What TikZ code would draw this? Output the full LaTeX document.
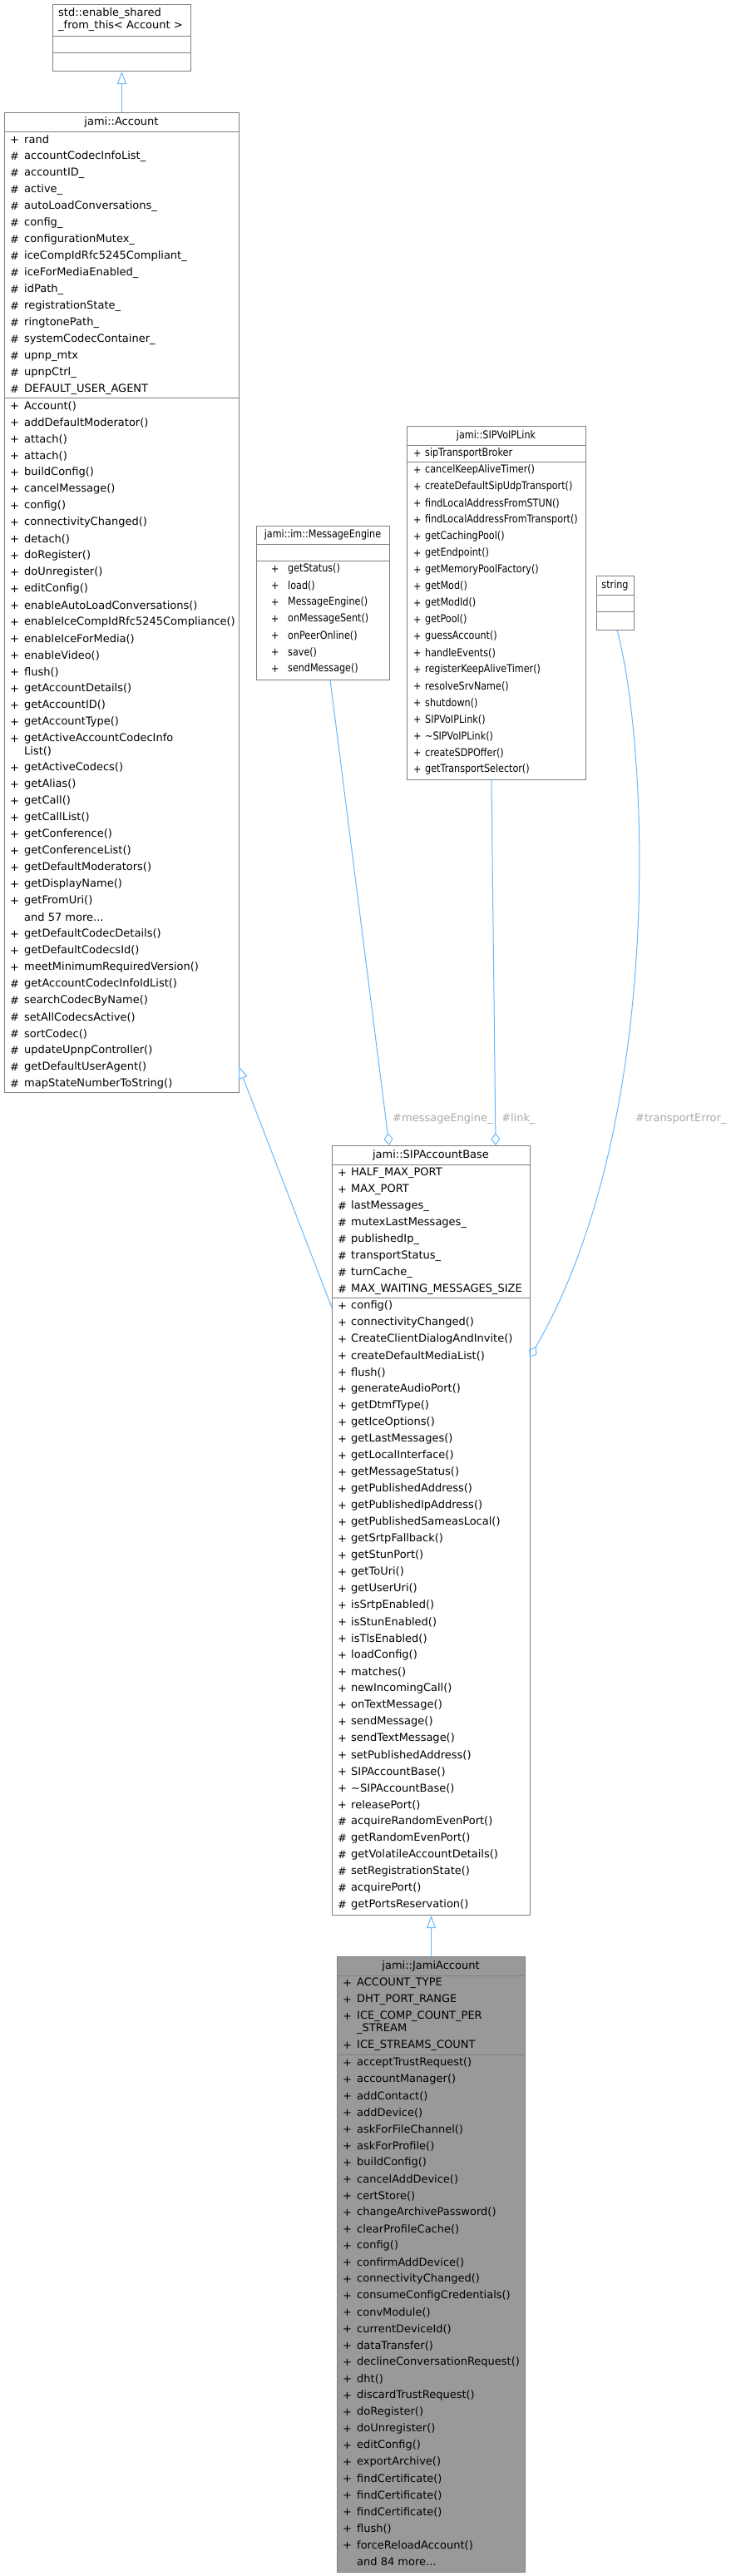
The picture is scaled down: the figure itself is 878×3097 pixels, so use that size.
\documentclass[tikz,border=0pt]{standalone}
\usepackage{fontspec}
\setmainfont{DejaVu Sans}
\newfontfamily\condfont{DejaVu Sans}[FakeStretch=0.86]
\usetikzlibrary{arrows.meta}
\definecolor{boxgray}{HTML}{7F7F7F}
\definecolor{edgeblue}{HTML}{63B8FF}
\definecolor{labelgray}{HTML}{A8A8A8}
\definecolor{jamifill}{HTML}{999999}

\newcommand\normfont{\fontsize{13}{15}\selectfont}
\newcommand\narrowfont{\condfont\fontsize{13}{15}\selectfont}
\newcommand\moredots{.{}.{}.}
% #1 prefix x, #2 name x, #3 first y, #4 font, #5 list of prefix/name
\newcommand\members[5]{%
  \foreach \p/\t [count=\i from 0] in {#5} {
    \node[member, font=#4] at (#1, {#3+20*\i}) {\p};
    \node[member, font=#4] at (#2, {#3+20*\i}) {\t};
  }}

\begin{document}
\begin{tikzpicture}[x=1pt, y=-1pt,
    classbox/.style={draw=boxgray, line width=1pt, anchor=north west, inner sep=0pt},
    sepline/.style={draw=boxgray, line width=1pt},
    member/.style={anchor=west, inner sep=0pt},
    title/.style={inner sep=0pt, font=\normfont},
    inherit/.style={draw=edgeblue, line width=1pt, -{Triangle[open, length=15pt, width=11pt]}},
    aggr/.style={draw=edgeblue, line width=1pt, {Diamond[open, length=15pt, width=11pt]}-},
    rolelabel/.style={anchor=west, inner sep=0pt, text=labelgray, font=\normfont}]

    \useasboundingbox (0,0) rectangle (878,3097);

    % std::enable_shared_from_this
    \node[classbox, minimum width=166pt, minimum height=80pt] (enable) at (63,5) {};
    \node[title, anchor=west] (enabletitle1) at (70,16) {std::enable\_shared};
    \node[title, anchor=west] (enabletitle2) at (70,31) {\_from\_this< Account >};
    \draw[sepline] (63,43) -- (229,43);
    \draw[sepline] (63,63) -- (229,63);

    % jami::Account
    \node[classbox, minimum width=282pt, minimum height=1178pt] (account) at (5,135) {};
    \node[title] (accounttitle) at (146,146.5) {jami::Account};
    \draw[sepline] (5,158) -- (287,158);
    \draw[sepline] (5,478) -- (287,478);
    \members{12}{29}{168}{\normfont}{+/rand, \#/accountCodecInfoList\_, \#/accountID\_, \#/active\_,
      \#/autoLoadConversations\_, \#/config\_, \#/configurationMutex\_, \#/iceCompIdRfc5245Compliant\_,
      \#/iceForMediaEnabled\_, \#/idPath\_, \#/registrationState\_, \#/ringtonePath\_,
      \#/systemCodecContainer\_, \#/upnp\_mtx, \#/upnpCtrl\_, \#/DEFAULT\_USER\_AGENT}
    \members{12}{29}{488}{\normfont}{+/Account(), +/addDefaultModerator(), +/attach(), +/attach(),
      +/buildConfig(), +/cancelMessage(), +/config(), +/connectivityChanged(), +/detach(),
      +/doRegister(), +/doUnregister(), +/editConfig(), +/enableAutoLoadConversations(),
      +/enableIceCompIdRfc5245Compliance(), +/enableIceForMedia(), +/enableVideo(), +/flush(),
      +/getAccountDetails(), +/getAccountID(), +/getAccountType(), +/getActiveAccountCodecInfo}
    \node[member, font=\normfont] (accountwrap) at (29,903) {List()};
    \members{12}{29}{923}{\normfont}{+/getActiveCodecs(), +/getAlias(), +/getCall(), +/getCallList(),
      +/getConference(), +/getConferenceList(), +/getDefaultModerators(), +/getDisplayName(),
      +/getFromUri(), {}/and 57 more\moredots, +/getDefaultCodecDetails(), +/getDefaultCodecsId(),
      +/meetMinimumRequiredVersion(), \#/getAccountCodecInfoIdList(), \#/searchCodecByName(),
      \#/setAllCodecsActive(), \#/sortCodec(), \#/updateUpnpController(),
      \#/getDefaultUserAgent(), \#/mapStateNumberToString()}

    % jami::im::MessageEngine
    \node[classbox, minimum width=160pt, minimum height=185pt] (msgengine) at (308,632) {};
    \node[title, font=\narrowfont] (msgenginetitle) at (388,643) {jami::im::MessageEngine};
    \draw[sepline] (308,654) -- (468,654);
    \draw[sepline] (308,674) -- (468,674);
    \members{326}{346}{684}{\narrowfont}{+/getStatus(), +/load(), +/MessageEngine(), +/onMessageSent(),
      +/onPeerOnline(), +/save(), +/sendMessage()}

    % jami::SIPVoIPLink
    \node[classbox, minimum width=215pt, minimum height=425pt] (voiplink) at (489,512) {};
    \node[title, font=\narrowfont] (voiplinktitle) at (596.5,523.5) {jami::SIPVoIPLink};
    \draw[sepline] (489,535) -- (704,535);
    \draw[sepline] (489,555) -- (704,555);
    \members{497}{511}{545}{\narrowfont}{+/sipTransportBroker}
    \members{497}{511}{565}{\narrowfont}{+/cancelKeepAliveTimer(), +/createDefaultSipUdpTransport(),
      +/findLocalAddressFromSTUN(), +/findLocalAddressFromTransport(), +/getCachingPool(),
      +/getEndpoint(), +/getMemoryPoolFactory(), +/getMod(), +/getModId(), +/getPool(),
      +/guessAccount(), +/handleEvents(), +/registerKeepAliveTimer(), +/resolveSrvName(),
      +/shutdown(), +/SIPVoIPLink(), +/\textasciitilde SIPVoIPLink(), +/createSDPOffer(),
      +/getTransportSelector()}

    % string
    \node[classbox, minimum width=45pt, minimum height=65pt] (stringcls) at (717,692) {};
    \node[title, font=\narrowfont] (stringtitle) at (739.5,703.5) {string};
    \draw[sepline] (717,715) -- (762,715);
    \draw[sepline] (717,735) -- (762,735);

    % jami::SIPAccountBase
    \node[classbox, minimum width=238pt, minimum height=925pt] (sipbase) at (399,1377) {};
    \node[title] (sipbasetitle) at (518,1388.5) {jami::SIPAccountBase};
    \draw[sepline] (399,1400) -- (637,1400);
    \draw[sepline] (399,1560) -- (637,1560);
    \members{406}{422}{1410}{\normfont}{+/HALF\_MAX\_PORT, +/MAX\_PORT, \#/lastMessages\_,
      \#/mutexLastMessages\_, \#/publishedIp\_, \#/transportStatus\_, \#/turnCache\_,
      \#/MAX\_WAITING\_MESSAGES\_SIZE}
    \members{406}{422}{1570}{\normfont}{+/config(), +/connectivityChanged(), +/CreateClientDialogAndInvite(),
      +/createDefaultMediaList(), +/flush(), +/generateAudioPort(), +/getDtmfType(),
      +/getIceOptions(), +/getLastMessages(), +/getLocalInterface(), +/getMessageStatus(),
      +/getPublishedAddress(), +/getPublishedIpAddress(), +/getPublishedSameasLocal(),
      +/getSrtpFallback(), +/getStunPort(), +/getToUri(), +/getUserUri(), +/isSrtpEnabled(),
      +/isStunEnabled(), +/isTlsEnabled(), +/loadConfig(), +/matches(), +/newIncomingCall(),
      +/onTextMessage(), +/sendMessage(), +/sendTextMessage(), +/setPublishedAddress(),
      +/SIPAccountBase(), +/\textasciitilde SIPAccountBase(), +/releasePort(),
      \#/acquireRandomEvenPort(), \#/getRandomEvenPort(), \#/getVolatileAccountDetails(),
      \#/setRegistrationState(), \#/acquirePort(), \#/getPortsReservation()}

    % jami::JamiAccount
    \node[classbox, fill=jamifill, minimum width=226pt, minimum height=740pt] (jamiacc) at (405,2352) {};
    \node[title] (jamiacctitle) at (518,2363.5) {jami::JamiAccount};
    \draw[sepline] (405,2375) -- (631,2375);
    \draw[sepline] (405,2470) -- (631,2470);
    \members{412}{429}{2384}{\normfont}{+/ACCOUNT\_TYPE, +/DHT\_PORT\_RANGE, +/ICE\_COMP\_COUNT\_PER}
    \node[member, font=\normfont] (jamiwrap) at (429,2439) {\_STREAM};
    \members{412}{429}{2459}{\normfont}{+/ICE\_STREAMS\_COUNT}
    \members{412}{429}{2480}{\normfont}{+/acceptTrustRequest(), +/accountManager(), +/addContact(),
      +/addDevice(), +/askForFileChannel(), +/askForProfile(), +/buildConfig(),
      +/cancelAddDevice(), +/certStore(), +/changeArchivePassword(), +/clearProfileCache(),
      +/config(), +/confirmAddDevice(), +/connectivityChanged(), +/consumeConfigCredentials(),
      +/convModule(), +/currentDeviceId(), +/dataTransfer(), +/declineConversationRequest(),
      +/dht(), +/discardTrustRequest(), +/doRegister(), +/doUnregister(), +/editConfig(),
      +/exportArchive(), +/findCertificate(), +/findCertificate(), +/findCertificate(),
      +/flush(), +/forceReloadAccount(), {}/and 84 more\moredots}

    % connectors
    \coordinate (acc_in) at (287,1282);
    \coordinate (base_out) at (399,1572);
    \coordinate (me_out) at (397,817);
    \coordinate (me_in) at (468,1377);
    \coordinate (link_out) at (591,937);
    \coordinate (link_in) at (596,1377);
    \coordinate (str_out) at (742,757);
    \coordinate (str_in) at (637,1632);

    \draw[inherit] (account.north) -- (enable.south);
    \draw[inherit] (base_out) -- (acc_in);
    \draw[inherit] (jamiacc.north) -- (sipbase.south);
    \draw[aggr] (me_in) -- (me_out);
    \draw[aggr] (link_in) -- (link_out);
    \draw[aggr] (str_in) .. controls (800,1350) and (780,900) .. (str_out);

    \node[rolelabel] (melabel) at (472,1345) {\#messageEngine\_};
    \node[rolelabel] (linklabel) at (603,1345) {\#link\_};
    \node[rolelabel] (strlabel) at (764,1345) {\#transportError\_};
\end{tikzpicture}
\end{document}
